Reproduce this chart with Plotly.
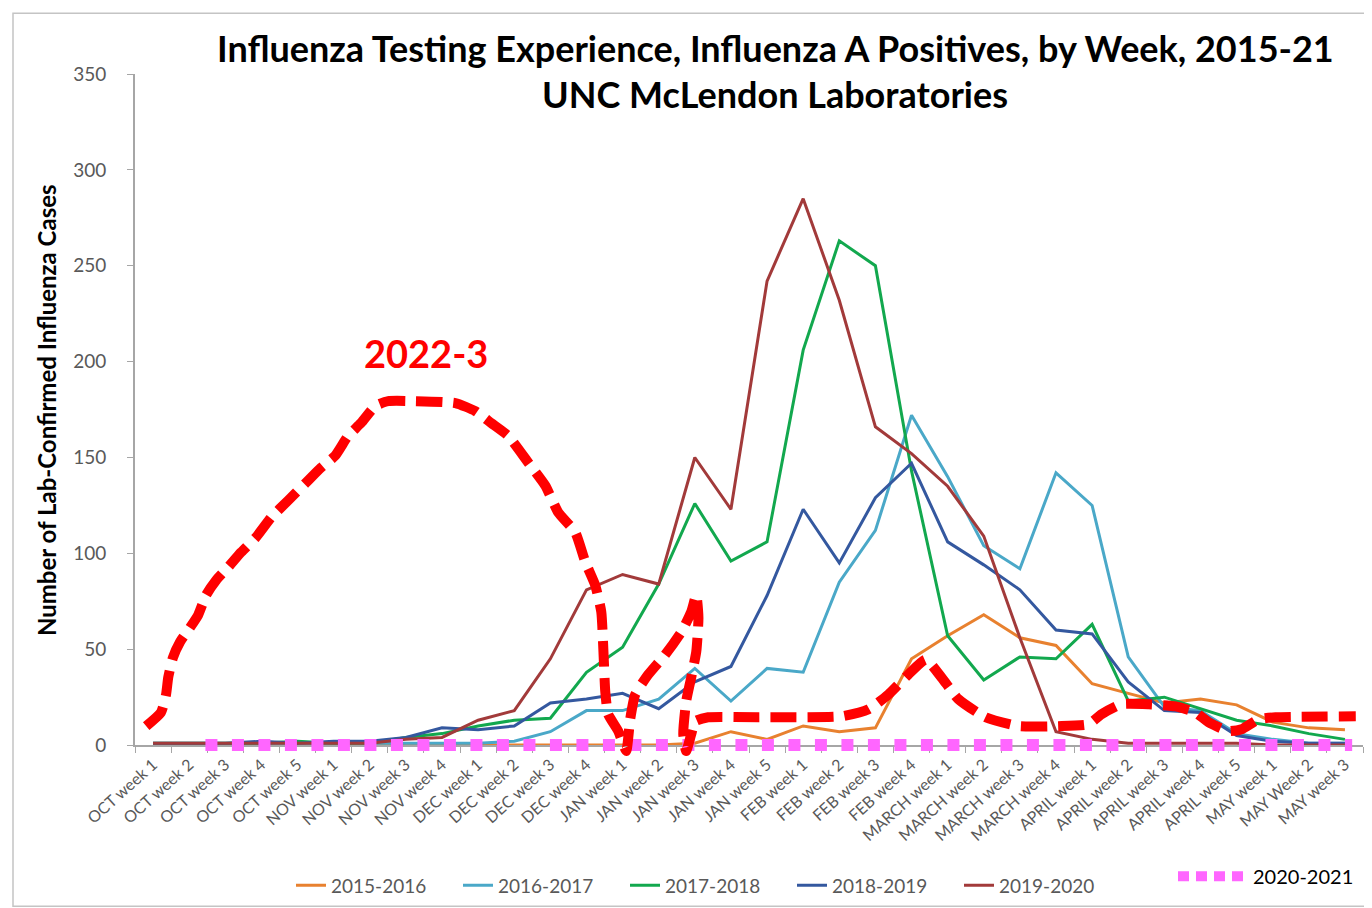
import plotly.graph_objects as go

weeks = ["OCT week 1", "OCT week 2", "OCT week 3", "OCT week 4", "OCT week 5",
         "NOV week 1", "NOV week 2", "NOV week 3", "NOV week 4",
         "DEC week 1", "DEC week 2", "DEC week 3", "DEC week 4",
         "JAN week 1", "JAN week 2", "JAN week 3", "JAN week 4", "JAN week 5",
         "FEB week 1", "FEB week 2", "FEB week 3", "FEB week 4",
         "MARCH week 1", "MARCH week 2", "MARCH week 3", "MARCH week 4",
         "APRIL week 1", "APRIL week 2", "APRIL week 3", "APRIL week 4", "APRIL week 5",
         "MAY week 1", "MAY Week 2", "MAY week 3"]

s2015_2016 = [0, 0, 0, 0, 0, 0, 0, 0, 0, 0, 0, 0, 0, 0, 0, 1, 7, 3, 10, 7, 9, 45,
              57, 68, 56, 52, 32, 27, 22, 24, 21, 12, 9, 8]
s2016_2017 = [0, 0, 0, 0, 0, 1, 1, 1, 1, 1, 2, 7, 18, 18, 24, 40, 23, 40, 38, 85, 112, 172,
              140, 104, 92, 142, 125, 46, 20, 18, 6, 3, 1, 1]
s2017_2018 = [1, 1, 1, 1, 2, 1, 1, 4, 6, 10, 13, 14, 38, 51, 84, 126, 96, 106, 206, 263, 250, 143,
              57, 34, 46, 45, 63, 23, 25, 19, 13, 10, 6, 3]
s2018_2019 = [1, 1, 1, 2, 1, 2, 2, 4, 9, 8, 10, 22, 24, 27, 19, 33, 41, 78, 123, 95, 129, 147,
              106, 94, 81, 60, 58, 33, 18, 17, 5, 2, 1, 1]
s2019_2020 = [1, 1, 1, 1, 1, 1, 1, 3, 4, 13, 18, 45, 81, 89, 84, 150, 123, 242, 285, 232, 166, 152,
              135, 109, 56, 7, 3, 1, 1, 1, 1, 0, 0, 0]

# 2020-2021 overlay (drawn flat on zero), positions in week-index units
s2020_2021_x = [1.45, 33.2]
s2020_2021_y = [0, 0]

# 2022-3 hand-drawn overlay curve, positions in week-index units
s2022_3_x = [-0.19, 0.22, 0.36, 0.42, 0.55, 0.75, 1.02, 1.25, 1.47, 1.75, 2.08, 2.44, 2.85, 3.27,
             3.74, 4.21, 4.65, 5.04, 5.40, 5.76, 6.15, 6.51, 7.26, 8.37, 8.92, 9.36, 9.83, 10.39,
             10.86, 11.22, 11.69, 11.97, 12.24, 12.41, 12.47, 12.52, 12.60, 12.88, 13.10, 13.21,
             13.35, 13.71, 14.18, 14.63, 14.90, 15.04, 15.10, 15.04, 14.90, 14.76, 14.68, 14.76,
             14.90, 15.01, 15.37, 16.76, 19.06, 19.81, 20.36, 20.91, 21.39, 21.83, 22.30, 23.05,
             23.96, 25.07, 25.90, 26.26, 26.81, 27.56, 28.31, 28.86, 29.22, 29.78, 30.14, 30.61,
             31.08, 33.30]
s2022_3_y = [9.9, 17.1, 26.4, 35.3, 45.6, 53.9, 61.2, 67.9, 78.3, 86.1, 92.8, 100.6, 108.4, 118.7,
             127.6, 136.4, 144.7, 150.9, 161.3, 168.0, 176.8, 179.4, 179.4, 178.4, 174.2, 168.0,
             161.3, 147.3, 135.3, 121.3, 111.0, 95.4, 83.5, 69.5, 48.7, 28.0, 16.1, 7.3, -3.1,
             13.5, 26.4, 36.8, 47.2, 59.1, 69.5, 78.3, 66.4, 48.7, 35.3, 22.8, 5.7, -3.1, 5.7,
             12.4, 14.5, 14.5, 15.0, 18.7, 26.4, 36.8, 44.6, 35.3, 23.9, 14.5, 9.9, 9.9, 10.9,
             16.1, 21.3, 21.3, 20.2, 17.1, 11.9, 7.3, 8.3, 13.5, 14.5, 15.0]

series = [("2015-2016", s2015_2016, "#E8812F"),
          ("2016-2017", s2016_2017, "#4AA8C8"),
          ("2017-2018", s2017_2018, "#12A84E"),
          ("2018-2019", s2018_2019, "#34589F"),
          ("2019-2020", s2019_2020, "#A23A3A")]

FONT = "Lato"
GREY = "#595959"
AX = "#A6A6A6"

# plot area: x 127..1355 ; main y axis 66..741 ; overlay axis extends 20px below zero
L, R, T, B = 127, 17, 66, 147
PW, PH = 1372 - L - R, 908 - T - B
EXT = 20
d = EXT / PH
YMAX = 350
Y2MIN = YMAX - YMAX * PH / (PH - EXT)

def px(x):
    return (x - L) / PW

def py(y):
    return (908 - B - y) / PH

xs = list(range(len(weeks)))
fig = go.Figure()

for name, vals, col in series:
    fig.add_trace(go.Scatter(x=xs, y=vals, mode="lines", name=name,
                             line=dict(color=col, width=3)))

fig.add_trace(go.Scatter(x=s2020_2021_x, y=s2020_2021_y, mode="lines", name="2020-2021",
                         line=dict(color="#FF66FF", width=12, dash="12px,14.5px"),
                         showlegend=False, hoverinfo="skip", yaxis="y2"))

fig.add_trace(go.Scatter(x=s2022_3_x, y=s2022_3_y, mode="lines", name="2022-3",
                         line=dict(color="#FF0000", width=10, dash="26px,11px",
                                   shape="spline", smoothing=0.5),
                         showlegend=False, hoverinfo="skip", yaxis="y2"))

fig.update_layout(
    width=1372, height=908,
    margin=dict(l=L, r=R, t=T, b=B),
    paper_bgcolor="white", plot_bgcolor="rgba(0,0,0,0)",
    font=dict(family=FONT, color=GREY),
    showlegend=True,
    legend=dict(orientation="h", x=px(283), y=py(882), xanchor="left", yanchor="middle",
                font=dict(family=FONT, size=19, color=GREY),
                entrywidth=122, entrywidthmode="pixels", itemwidth=30,
                bgcolor="rgba(0,0,0,0)", traceorder="normal"),
    xaxis=dict(range=[-0.5, 33.5], tickmode="array", tickvals=xs, ticktext=weeks,
               tickangle=-42, tickfont=dict(family=FONT, size=16, color=GREY),
               showgrid=False, zeroline=False, showline=True, linecolor=AX, linewidth=2,
               ticks="", ticklabelstandoff=2, anchor="y",
               minor=dict(ticks="outside", ticklen=6, tickcolor=AX, tick0=-0.5, dtick=1,
                          showgrid=False)),
    yaxis=dict(domain=[d, 1], range=[0, YMAX], tickmode="linear", tick0=0, dtick=50,
               tickfont=dict(family=FONT, size=19, color=GREY),
               showgrid=False, zeroline=False, showline=True, linecolor=AX, linewidth=2,
               ticks="outside", ticklen=6, tickcolor=AX, ticklabelstandoff=17),
    yaxis2=dict(domain=[0, 1], range=[Y2MIN, YMAX], visible=False, showgrid=False,
                zeroline=False, anchor="x"),
    annotations=[
        dict(text="<b>Influenza Testing Experience, Influenza A Positives, by Week, 2015-21</b>",
             xref="paper", yref="paper", x=px(767), y=py(40), xanchor="center", yanchor="middle",
             showarrow=False, font=dict(family=FONT, size=36, color="black")),
        dict(text="<b>UNC McLendon Laboratories</b>",
             xref="paper", yref="paper", x=px(767), y=py(86), xanchor="center", yanchor="middle",
             showarrow=False, font=dict(family=FONT, size=36, color="black")),
        dict(text="<b>Number of Lab-Confirmed Influenza Cases</b>", textangle=-90,
             xref="paper", yref="paper", x=px(38), y=py(404), xanchor="center", yanchor="middle",
             showarrow=False, font=dict(family=FONT, size=24, color="black")),
        dict(text="<b>2022-3</b>", xref="x", yref="y", x=7.55, y=204.5,
             xanchor="center", yanchor="middle", showarrow=False,
             font=dict(family=FONT, size=38, color="#FF0000")),
        dict(text="2020-2021", xref="paper", yref="paper", x=px(1243), y=py(873),
             xanchor="left", yanchor="middle", showarrow=False,
             font=dict(family=FONT, size=20, color="black")),
    ],
    shapes=[
        dict(type="line", xref="paper", yref="paper", x0=px(1170), x1=px(1240),
             y0=py(873), y1=py(873), line=dict(color="#FF66FF", width=10, dash="11px,7px")),
        dict(type="rect", xref="paper", yref="paper", x0=px(5), x1=px(1367), y0=py(903), y1=py(5),
             line=dict(color="#C4C4C4", width=1.5), layer="below"),
    ],
)

fig.write_html("out.html")
